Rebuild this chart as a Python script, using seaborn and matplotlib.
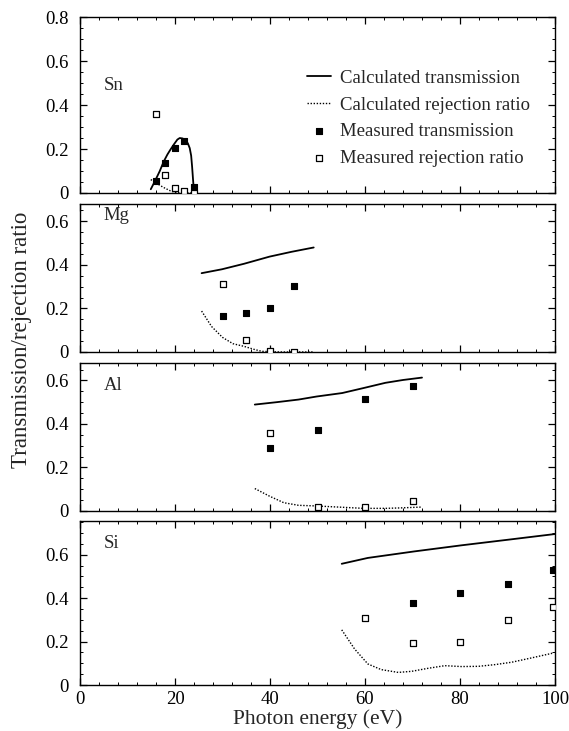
import seaborn as sns
import matplotlib.pyplot as plt
import matplotlib.ticker as ticker
from matplotlib.ticker import FuncFormatter

# Sn filter
sn_calc_x = [14.9, 15.8, 16.8, 17.6, 18.4, 19.0, 19.8, 20.5, 21.0, 21.6, 22.2, 22.7, 23.1, 23.4, 23.6, 23.8, 24.0]
sn_calc_t = [0.017, 0.055, 0.10, 0.142, 0.175, 0.196, 0.222, 0.243, 0.25, 0.248, 0.24, 0.226, 0.204, 0.17, 0.12, 0.06, 0.005]
sn_calc_rx = [14.9, 16.2, 17.6, 19.0, 20.1, 22.0, 24.0]
sn_calc_r = [0.061, 0.043, 0.025, 0.01, 0.002, 0.0, 0.0]
sn_meas_x = [15.9, 17.9, 19.9, 21.9, 23.9]
sn_meas_t = [0.055, 0.138, 0.204, 0.237, 0.025]
sn_meas_r = [0.361, 0.084, 0.023, 0.008, 0.0]

# Mg filter
mg_calc_x = [25.6, 29.9, 34.5, 39.9, 44.5, 49.2]
mg_calc_t = [0.362, 0.38, 0.405, 0.438, 0.46, 0.48]
mg_calc_rx = [25.6, 27.7, 30.0, 32.2, 34.5, 36.8, 38.3, 42.0, 46.0, 49.2]
mg_calc_r = [0.188, 0.117, 0.067, 0.038, 0.026, 0.011, 0.003, 0.0, 0.0, 0.0]
mg_meas_x = [30, 35, 40, 45]
mg_meas_t = [0.165, 0.18, 0.2, 0.305]
mg_meas_r = [0.31, 0.056, 0.003, 0.0]

# Al filter
al_calc_x = [36.8, 41.4, 46.0, 49.8, 55.2, 59.7, 64.3, 68.0, 72.0]
al_calc_t = [0.489, 0.5, 0.512, 0.526, 0.542, 0.565, 0.589, 0.602, 0.613]
al_calc_rx = [36.8, 39.9, 42.9, 46.0, 49.8, 55.2, 59.7, 64.3, 67.4, 72.0]
al_calc_r = [0.103, 0.068, 0.038, 0.026, 0.023, 0.017, 0.012, 0.012, 0.014, 0.018]
al_meas_x = [40, 50, 60, 70]
al_meas_t = [0.291, 0.374, 0.515, 0.573]
al_meas_r = [0.359, 0.018, 0.018, 0.047]

# Si filter
si_calc_x = [55.1, 60.6, 70.4, 80.3, 90.2, 100.0]
si_calc_t = [0.558, 0.585, 0.615, 0.643, 0.669, 0.695]
si_calc_rx = [55.1, 57.8, 60.6, 63.4, 67.0, 69.8, 73.3, 76.8, 80.3, 83.9, 87.4, 90.9, 95.1, 99.4]
si_calc_r = [0.254, 0.166, 0.097, 0.071, 0.058, 0.063, 0.077, 0.089, 0.085, 0.086, 0.094, 0.105, 0.125, 0.146]
si_meas_tx = [70, 80, 90, 99.5]
si_meas_t = [0.377, 0.425, 0.466, 0.528]
si_meas_rx = [60, 70, 80, 90, 99.5]
si_meas_r = [0.309, 0.194, 0.2, 0.297, 0.358]

sns.set_style("ticks")
plt.rcParams['font.family'] = ['Liberation Serif', 'DejaVu Serif']


def style_axis(ax, ymax, show_x):
    ax.set_xlim(0, 100)
    ax.set_ylim(0, ymax)
    ax.xaxis.set_major_locator(ticker.MultipleLocator(20))
    ax.xaxis.set_minor_locator(ticker.MultipleLocator(4))
    ax.yaxis.set_major_locator(ticker.MultipleLocator(0.2))
    ax.yaxis.set_minor_locator(ticker.MultipleLocator(0.05))
    ax.yaxis.set_major_formatter(FuncFormatter(lambda v, _: '0' if abs(v) < 1e-9 else '{:.1f}'.format(v)))
    ax.tick_params(which='both', direction='in', top=True, right=True, colors='black', labelsize=13.5)
    ax.tick_params(which='major', length=5, width=0.9)
    ax.tick_params(which='minor', length=2.5, width=0.7)
    ax.tick_params(axis='y', pad=8)
    ax.tick_params(axis='x', pad=4, labelbottom=show_x)
    for s in ax.spines.values():
        s.set_visible(True)
        s.set_linewidth(1.0)
        s.set_color('black')
    ax.set_xlabel('')
    ax.set_ylabel('')


def plot_panel(ax, name, cx, ct, crx, cr, mtx, mt, mrx, mr, label_y, legend=False):
    sns.lineplot(x=cx, y=ct, ax=ax, color='black', linewidth=1.3, estimator=None,
                 label='Calculated transmission' if legend else None)
    sns.lineplot(x=crx, y=cr, ax=ax, color='black', linewidth=1.0, linestyle=(0, (1, 1.2)), estimator=None,
                 label='Calculated rejection ratio' if legend else None)
    sns.scatterplot(x=mtx, y=mt, ax=ax, marker='s', s=18, color='black', edgecolor='black', linewidth=0.8,
                    label='Measured transmission' if legend else None)
    sns.scatterplot(x=mrx, y=mr, ax=ax, marker='s', s=16, color='white', edgecolor='black', linewidth=0.9,
                    label='Measured rejection ratio' if legend else None, zorder=3)
    ax.text(5, label_y, name, transform=ax.get_xaxis_transform(), fontsize=13.5, va='center', ha='left')
    if legend:
        ax.legend(loc='upper left', bbox_to_anchor=(0.458, 0.754), frameon=False, fontsize=13.5,
                  borderpad=0, handlelength=1.3, handletextpad=0.45, labelspacing=0.51)


fig = plt.figure(figsize=(5.69, 7.31), dpi=100)
left, width = 0.1406, 0.8348
ax_sn = fig.add_axes([left, 0.736, width, 0.2406])
ax_mg = fig.add_axes([left, 0.5185, width, 0.2025])
ax_al = fig.add_axes([left, 0.301, width, 0.2024])
ax_si = fig.add_axes([left, 0.0629, width, 0.2244])

plot_panel(ax_sn, 'Sn', sn_calc_x, sn_calc_t, sn_calc_rx, sn_calc_r,
           sn_meas_x, sn_meas_t, sn_meas_x, sn_meas_r, 0.612, legend=True)
plot_panel(ax_mg, 'Mg', mg_calc_x, mg_calc_t, mg_calc_rx, mg_calc_r,
           mg_meas_x, mg_meas_t, mg_meas_x, mg_meas_r, 0.92)
plot_panel(ax_al, 'Al', al_calc_x, al_calc_t, al_calc_rx, al_calc_r,
           al_meas_x, al_meas_t, al_meas_x, al_meas_r, 0.85)
plot_panel(ax_si, 'Si', si_calc_x, si_calc_t, si_calc_rx, si_calc_r,
           si_meas_tx, si_meas_t, si_meas_rx, si_meas_r, 0.86)

style_axis(ax_sn, 0.8, False)
style_axis(ax_mg, 0.68, False)
style_axis(ax_al, 0.68, False)
style_axis(ax_si, 0.755, True)

ax_si.set_xlabel('Photon energy (eV)', fontsize=15.5, labelpad=1)
fig.text(0.037, 1 - 340 / 731, 'Transmission/rejection ratio', rotation=90, fontsize=16.5,
         ha='center', va='center')

fig.savefig('out.png', dpi=100)
